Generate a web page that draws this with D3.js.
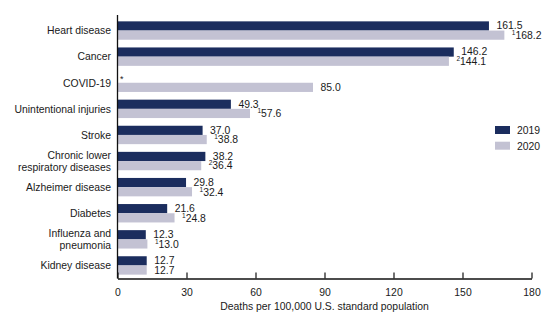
<!DOCTYPE html>
<html>
<head>
<meta charset="utf-8">
<script src="https://cdn.jsdelivr.net/npm/d3@7"></script>
<style>
  body { margin: 0; background: #fff; }
  text { font-family: "Liberation Sans", Arial, sans-serif; fill: #1a1a1a; }
</style>
</head>
<body>
<div id="chart"></div>
<script>
// leading causes of death, age-adjusted rates
const causes = ["Heart disease", "Cancer", "COVID-19", "Unintentional injuries", "Stroke",
  "Chronic lower respiratory diseases", "Alzheimer disease", "Diabetes",
  "Influenza and pneumonia", "Kidney disease"];
const causeLines = [["Heart disease"], ["Cancer"], ["COVID-19"], ["Unintentional injuries"], ["Stroke"],
  ["Chronic lower", "respiratory diseases"], ["Alzheimer disease"], ["Diabetes"],
  ["Influenza and", "pneumonia"], ["Kidney disease"]];
const rates2019 = [161.5, 146.2, null, 49.3, 37.0, 38.2, 29.8, 21.6, 12.3, 12.7];
const rates2020 = [168.2, 144.1, 85.0, 57.6, 38.8, 36.4, 32.4, 24.8, 13.0, 12.7];
const notes2020 = ["1", "2", "", "1", "1", "2", "1", "1", "1", ""];
const years = ["2019", "2020"];
const xTicks = [0, 30, 60, 90, 120, 150, 180];

const colors = { "2019": "#1b2d5e", "2020": "#c3c2d3" };
const width = 560, height = 324;
const fs = 10.4;

const svg = d3.select("#chart").append("svg")
  .attr("width", width)
  .attr("height", height);

const x = d3.scaleLinear().domain([0, 180]).range([117.5, 531.5]);
const y = d3.scaleBand().domain(causes).range([17.5, 278.5]).padding(0);
const barH = 9.2;

const rows = causes.map((c, i) => ({
  cause: c, lines: causeLines[i], v19: rates2019[i], v20: rates2020[i], note: notes2020[i]
}));

const mid = d => y(d.cause) + y.bandwidth() / 2;

// 2019 bars
svg.append("g").selectAll("rect")
  .data(rows.filter(d => d.v19 != null)).enter()
  .append("rect")
  .attr("x", x(0))
  .attr("y", d => mid(d) - barH)
  .attr("width", d => x(d.v19) - x(0))
  .attr("height", barH)
  .attr("fill", colors["2019"]);

// 2020 bars
svg.append("g").selectAll("rect")
  .data(rows).enter()
  .append("rect")
  .attr("x", x(0))
  .attr("y", d => mid(d))
  .attr("width", d => x(d.v20) - x(0))
  .attr("height", barH)
  .attr("fill", colors["2020"]);

// value labels
svg.append("g").selectAll("text")
  .data(rows.filter(d => d.v19 != null)).enter()
  .append("text")
  .attr("x", d => x(d.v19) + 7.5)
  .attr("y", d => mid(d) - 1.3)
  .attr("font-size", fs)
  .text(d => d.v19.toFixed(1));

const lab20 = svg.append("g").selectAll("text")
  .data(rows).enter()
  .append("text")
  .attr("x", d => x(d.v20) + 7.5)
  .attr("y", d => mid(d) + barH - 0.8)
  .attr("font-size", fs);
lab20.append("tspan")
  .attr("font-size", 6.5)
  .attr("dy", -4)
  .text(d => d.note);
lab20.append("tspan")
  .attr("dy", d => d.note ? 4 : 0)
  .text(d => d.v20.toFixed(1));

// no 2019 data for COVID-19
rows.filter(d => d.v19 == null).forEach(d => {
  svg.append("text")
    .attr("x", x(0) + 2.5)
    .attr("y", mid(d) - 1)
    .attr("font-size", 9)
    .text("*");
});

// category labels
const cat = svg.append("g").selectAll("text")
  .data(rows).enter()
  .append("text")
  .attr("text-anchor", "end")
  .attr("font-size", fs)
  .attr("x", 111)
  .attr("y", d => mid(d) + 3.8 - (d.lines.length - 1) * 5.9);
cat.selectAll("tspan")
  .data(d => d.lines).enter()
  .append("tspan")
  .attr("x", 111)
  .attr("dy", (l, i) => i ? 11.8 : 0)
  .text(l => l);

// x axis, ticks pointing up
const xAxis = svg.append("g")
  .attr("transform", `translate(0,${y.range()[1]})`)
  .call(d3.axisBottom(x).tickValues(xTicks).tickSize(-6).tickPadding(10).tickSizeOuter(0));
xAxis.select(".domain").attr("stroke", "#111").attr("stroke-width", 1.3);
xAxis.selectAll(".tick line").attr("stroke", "#111").attr("stroke-width", 1.2);
xAxis.selectAll(".tick text")
  .attr("font-family", "Liberation Sans, Arial, sans-serif")
  .attr("font-size", fs)
  .attr("fill", "#1a1a1a");

// vertical baseline
svg.append("line")
  .attr("x1", x(0)).attr("x2", x(0))
  .attr("y1", 15).attr("y2", y.range()[1])
  .attr("stroke", "#111")
  .attr("stroke-width", 1.3);

svg.append("text")
  .attr("x", x(90))
  .attr("y", 309.5)
  .attr("text-anchor", "middle")
  .attr("font-size", fs)
  .text("Deaths per 100,000 U.S. standard population");

// legend
const legend = svg.append("g").selectAll("g")
  .data(years).enter()
  .append("g")
  .attr("transform", (d, i) => `translate(495,${126 + i * 15.7})`);
legend.append("rect")
  .attr("width", 15).attr("height", 8)
  .attr("fill", d => colors[d]);
legend.append("text")
  .attr("x", 22).attr("y", 8.3)
  .attr("font-size", fs)
  .text(d => d);
</script>
</body>
</html>
